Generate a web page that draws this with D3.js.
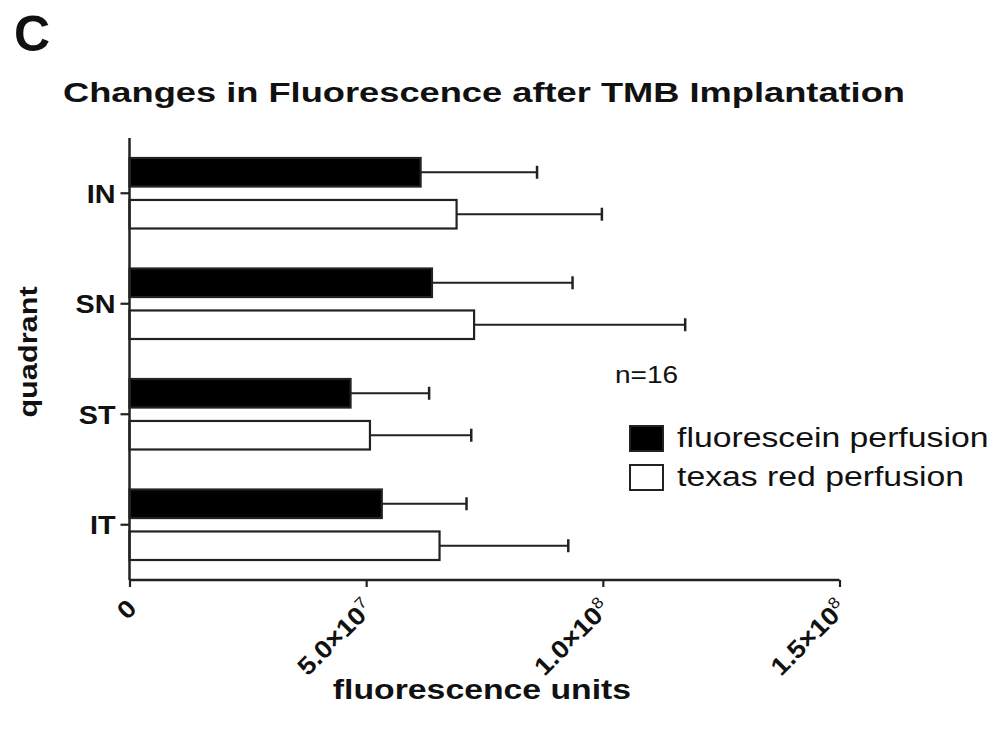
<!DOCTYPE html>
<html lang="en">
<head>
<meta charset="UTF-8">
<title>Changes in Fluorescence after TMB Implantation</title>
<style>
  body { margin: 0; background: #fff; }
  svg text { font-family: "Liberation Sans", Arial, sans-serif; fill: #111; }
</style>
</head>
<body>
<div id="root"></div>
<script src="https://cdn.jsdelivr.net/npm/d3@7"></script>
<script>
// data (fluorescence units)
const quadrants = ["IN", "SN", "ST", "IT"]
const series = ["fluorescein perfusion", "texas red perfusion"]
const fluoresceinMean = [61.5e6, 63.9e6, 46.7e6, 53.3e6]
const fluoresceinErr = [24.6e6, 29.7e6, 16.6e6, 17.9e6]
const texasRedMean = [69.1e6, 72.8e6, 50.8e6, 65.5e6]
const texasRedErr = [30.7e6, 44.6e6, 21.4e6, 27.2e6]
const xTicks = [0, 5e7, 1e8, 1.5e8]
const xTickBase = ["0", "5.0\u00d710", "1.0\u00d710", "1.5\u00d710"]
const xTickExp = ["", "7", "8", "8"]

const rows = quadrants.map((q, i) => ({
  q,
  bars: [
    { s: series[0], mean: fluoresceinMean[i], err: fluoresceinErr[i] },
    { s: series[1], mean: texasRedMean[i], err: texasRedErr[i] }
  ]
}))

// the original figure's lettering is drawn wider than Arial, so stretch text a bit
function widen(sel, k) {
  sel.each(function () {
    const n = this.getComputedTextLength()
    d3.select(this).attr("textLength", n * k).attr("lengthAdjust", "spacingAndGlyphs")
  })
}

const W = 1007, H = 732
const margin = { top: 138, left: 129.5, right: 167.5, bottom: 152 }
const width = W - margin.left - margin.right
const height = H - margin.top - margin.bottom

const svg = d3.select("#root").append("svg")
  .attr("width", W)
  .attr("height", H)

const g = svg.append("g")
  .attr("transform", `translate(${margin.left},${margin.top})`)

const x = d3.scaleLinear().domain([0, 1.5e8]).range([0, width])
const y = d3.scaleBand().domain(quadrants).range([0, height])
const ySub = d3.scaleBand().domain(series)
  .range([20, y.bandwidth() - 20]).paddingInner(0.32)
const fill = d3.scaleOrdinal().domain(series).range(["#000", "#fff"])

// bars + error bars
const grp = g.selectAll(".q").data(rows).join("g")
  .attr("class", "q")
  .attr("transform", d => `translate(0,${y(d.q)})`)

const bar = grp.selectAll(".b").data(d => d.bars).join("g").attr("class", "b")

bar.append("line")
  .attr("x1", d => x(d.mean)).attr("x2", d => x(d.mean + d.err))
  .attr("y1", d => ySub(d.s) + ySub.bandwidth() / 2)
  .attr("y2", d => ySub(d.s) + ySub.bandwidth() / 2)
  .attr("stroke", "#222").attr("stroke-width", 2.2)
bar.append("line")
  .attr("x1", d => x(d.mean + d.err)).attr("x2", d => x(d.mean + d.err))
  .attr("y1", d => ySub(d.s) + ySub.bandwidth() / 2 - 6.5)
  .attr("y2", d => ySub(d.s) + ySub.bandwidth() / 2 + 6.5)
  .attr("stroke", "#222").attr("stroke-width", 2.5)
bar.append("rect")
  .attr("x", 0)
  .attr("y", d => ySub(d.s))
  .attr("width", d => x(d.mean))
  .attr("height", ySub.bandwidth())
  .attr("fill", d => fill(d.s))
  .attr("stroke", "#222").attr("stroke-width", 2.2)

// y axis
const yAxis = g.append("g")
  .call(d3.axisLeft(y).tickSize(9).tickPadding(5))
yAxis.select(".domain").attr("d", `M0,0V${height}`).attr("stroke", "#222").attr("stroke-width", 2.5)
yAxis.selectAll(".tick line").attr("stroke", "#222").attr("stroke-width", 2.2)
yAxis.selectAll(".tick text")
  .attr("font-size", 25).attr("font-weight", "bold")
  .attr("fill", "#111").attr("dy", "0.38em")
  .call(widen, 1.15)

// x axis
const xAxis = g.append("g")
  .attr("transform", `translate(0,${height})`)
  .call(d3.axisBottom(x).tickValues(xTicks).tickSize(7).tickFormat(""))
xAxis.select(".domain").attr("d", `M0,0H${width}`).attr("stroke", "#222").attr("stroke-width", 2.5)
xAxis.selectAll(".tick line").attr("stroke", "#222").attr("stroke-width", 2.2)
xAxis.selectAll(".tick text").remove()
xAxis.selectAll(".tick").each(function (d, i) {
  const t = d3.select(this).append("text")
    .attr("text-anchor", "end")
    .attr("transform", "translate(8,30) rotate(-45) scale(1.1,1)")
    .attr("font-size", 25).attr("font-weight", "bold")
    .attr("fill", "#111")
  t.append("tspan").text(xTickBase[i])
  if (xTickExp[i]) {
    t.append("tspan").text(xTickExp[i])
      .attr("dy", "-0.6em").attr("font-size", 16).attr("font-weight", "normal")
  }
})

// titles and labels
svg.append("text").attr("x", 14).attr("y", 51)
  .attr("font-size", 50).attr("font-weight", "bold").text("C")

svg.append("text").attr("x", 63).attr("y", 102)
  .attr("font-size", 28).attr("font-weight", "bold")
  .attr("textLength", 842).attr("lengthAdjust", "spacingAndGlyphs")
  .text("Changes in Fluorescence after TMB Implantation")

svg.append("text")
  .attr("transform", "translate(37,352) rotate(-90)")
  .attr("text-anchor", "middle")
  .attr("font-size", 26).attr("font-weight", "bold")
  .text("quadrant")
  .call(widen, 1.18)

svg.append("text")
  .attr("x", 482).attr("y", 699)
  .attr("text-anchor", "middle")
  .attr("font-size", 27).attr("font-weight", "bold")
  .text("fluorescence units")
  .call(widen, 1.25)

svg.append("text").attr("x", 615).attr("y", 383)
  .attr("font-size", 23).text("n=16")
  .call(widen, 1.22)

// legend
const legend = svg.append("g").attr("transform", "translate(630,426)")
const li = legend.selectAll("g").data(series).join("g")
  .attr("transform", (d, i) => `translate(0,${i * 39})`)
li.append("rect")
  .attr("width", 33).attr("height", 25)
  .attr("fill", d => fill(d)).attr("stroke", "#222").attr("stroke-width", 2)
li.append("text").attr("x", 47).attr("y", 21)
  .attr("font-size", 27).text(d => d)
  .call(widen, 1.25)
</script>
</body>
</html>
